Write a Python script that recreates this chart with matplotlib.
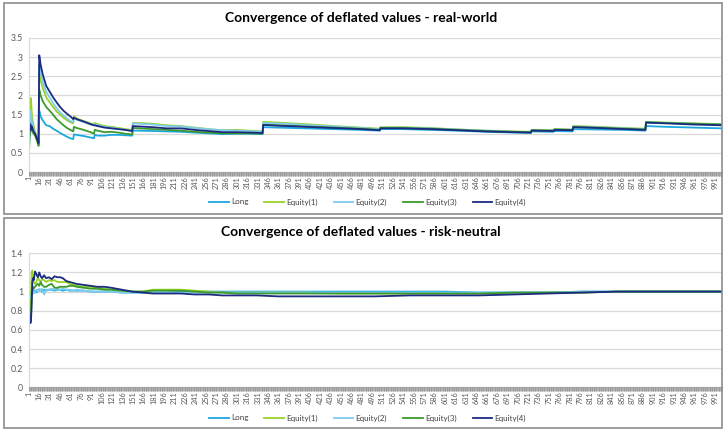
import matplotlib
matplotlib.use("Agg")
import matplotlib.pyplot as plt
from matplotlib.patches import Rectangle
from matplotlib.ticker import MultipleLocator, FixedLocator

plt.rcParams['font.family'] = ['Lato', 'DejaVu Sans']

# ---- data: real-world panel ----
steps_rw = [1, 2, 3, 4, 5, 6, 8, 10, 12, 14, 15, 16, 18, 21, 26, 31, 36, 41, 46, 51,
            56, 61, 65, 66, 70, 80, 90, 95, 96, 100, 110, 120, 130, 140, 150, 151, 160,
            180, 200, 220, 240, 260, 280, 300, 320, 338, 339, 360, 400, 440, 480, 507,
            508, 540, 580, 620, 660, 700, 725, 726, 758, 759, 785, 786, 820, 860, 890,
            891, 920, 960, 1000]
long_rw = [0.55, 1.0, 1.35, 1.5, 1.3, 1.2, 1.1, 1.0, 0.92, 0.85, 0.8, 1.6, 1.45, 1.35, 1.22,
           1.2, 1.13, 1.08, 1.02, 0.97, 0.92, 0.88, 0.86, 0.98, 0.97, 0.94, 0.9, 0.88, 0.97,
           0.95, 0.95, 0.97, 0.97, 0.96, 0.95, 1.08, 1.08, 1.07, 1.06, 1.05, 1.03, 1.01,
           0.99, 1.0, 1.0, 0.99, 1.17, 1.16, 1.14, 1.12, 1.1, 1.08, 1.12, 1.12, 1.1, 1.08,
           1.05, 1.03, 1.02, 1.06, 1.05, 1.07, 1.06, 1.12, 1.11, 1.1, 1.08, 1.2, 1.18,
           1.16, 1.14]
eq1_rw = [0.35, 1.2, 1.7, 1.93, 1.6, 1.4, 1.2, 1.05, 0.95, 0.8, 0.7, 2.6, 2.4, 2.2, 1.95,
          1.82, 1.7, 1.58, 1.5, 1.42, 1.35, 1.3, 1.27, 1.45, 1.4, 1.33, 1.27, 1.24, 1.28,
          1.25, 1.2, 1.18, 1.15, 1.12, 1.1, 1.28, 1.28, 1.26, 1.22, 1.2, 1.16, 1.12, 1.09,
          1.1, 1.08, 1.06, 1.31, 1.29, 1.25, 1.2, 1.16, 1.13, 1.17, 1.17, 1.15, 1.11, 1.08,
          1.06, 1.05, 1.1, 1.09, 1.12, 1.11, 1.2, 1.18, 1.15, 1.13, 1.31, 1.29, 1.27, 1.25]
eq2_rw = [0.45, 1.1, 1.5, 1.6, 1.35, 1.25, 1.1, 1.0, 0.93, 0.82, 0.75, 2.8, 2.6, 2.35, 2.1,
          1.95, 1.8, 1.67, 1.56, 1.48, 1.4, 1.33, 1.3, 1.42, 1.37, 1.3, 1.24, 1.22, 1.25,
          1.22, 1.18, 1.16, 1.13, 1.1, 1.08, 1.27, 1.26, 1.24, 1.2, 1.19, 1.15, 1.12, 1.09,
          1.08, 1.07, 1.05, 1.28, 1.27, 1.23, 1.19, 1.15, 1.12, 1.16, 1.16, 1.14, 1.11,
          1.08, 1.05, 1.04, 1.09, 1.08, 1.11, 1.1, 1.19, 1.17, 1.14, 1.12, 1.3, 1.28,
          1.26, 1.24]
eq3_rw = [0.33, 0.9, 1.15, 1.2, 1.1, 1.05, 1.0, 0.95, 0.85, 0.75, 0.68, 2.15, 2.0, 1.85,
          1.7, 1.6, 1.5, 1.38, 1.3, 1.22, 1.15, 1.1, 1.06, 1.18, 1.15, 1.1, 1.04, 1.0, 1.1,
          1.08, 1.04, 1.05, 1.03, 1.0, 0.98, 1.15, 1.14, 1.12, 1.1, 1.08, 1.05, 1.03, 1.01,
          1.01, 1.01, 1.0, 1.23, 1.22, 1.19, 1.16, 1.13, 1.1, 1.15, 1.15, 1.13, 1.1, 1.07,
          1.05, 1.04, 1.09, 1.08, 1.11, 1.1, 1.18, 1.16, 1.13, 1.11, 1.3, 1.28, 1.26, 1.24]
eq4_rw = [0.75, 1.15, 1.25, 1.1, 1.2, 1.15, 1.05, 1.0, 0.9, 0.82, 0.75, 3.05, 2.8, 2.55,
          2.25, 2.1, 1.95, 1.82, 1.7, 1.6, 1.52, 1.45, 1.38, 1.42, 1.38, 1.32, 1.25, 1.22,
          1.22, 1.2, 1.16, 1.14, 1.12, 1.1, 1.07, 1.2, 1.19, 1.17, 1.14, 1.14, 1.1, 1.07,
          1.04, 1.04, 1.03, 1.02, 1.23, 1.21, 1.18, 1.15, 1.12, 1.09, 1.14, 1.14, 1.12,
          1.09, 1.06, 1.04, 1.03, 1.08, 1.07, 1.1, 1.09, 1.17, 1.15, 1.12, 1.1, 1.29, 1.27,
          1.24, 1.22]

# ---- data: risk-neutral panel ----
steps_rn = [1, 2, 3, 4, 5, 6, 7, 8, 10, 12, 14, 16, 18, 20, 23, 26, 30, 34, 38, 42, 46,
            50, 55, 60, 65, 70, 80, 90, 100, 110, 120, 135, 150, 165, 180, 200, 220, 240,
            260, 280, 300, 330, 360, 400, 450, 500, 550, 600, 650, 700, 750, 800, 850,
            900, 950, 1000]
long_rn = [1.0, 0.98, 0.96, 0.98, 1.0, 1.0, 0.99, 1.0, 1.01, 0.99, 1.02, 1.01, 1.02, 1.0,
           1.02, 1.01, 1.02, 1.02, 1.01, 1.02, 1.02, 1.01, 1.02, 1.01, 1.01, 1.01, 1.01,
           1.0, 1.0, 1.0, 1.0, 0.99, 0.99, 0.99, 0.99, 0.99, 1.0, 1.0, 1.0, 1.0, 1.0, 1.0,
           1.0, 1.0, 1.0, 1.0, 1.0, 1.0, 0.99, 0.99, 0.99, 1.0, 1.0, 1.0, 1.0, 1.0]
eq1_rn = [0.72, 0.68, 0.68, 0.9, 1.2, 1.22, 1.15, 1.1, 1.08, 1.1, 1.15, 1.12, 1.1, 1.13,
          1.12, 1.1, 1.12, 1.11, 1.12, 1.1, 1.1, 1.1, 1.1, 1.08, 1.07, 1.06, 1.05, 1.05,
          1.04, 1.03, 1.02, 1.01, 1.0, 1.0, 1.02, 1.02, 1.02, 1.01, 1.0, 0.99, 0.99, 0.99,
          0.99, 0.99, 0.98, 0.98, 0.98, 0.98, 0.98, 0.98, 0.99, 0.99, 1.0, 1.0, 1.0, 1.0]
eq2_rn = [0.9, 0.95, 0.93, 0.95, 0.97, 1.0, 1.02, 0.98, 1.0, 1.02, 1.0, 1.03, 1.01, 1.03,
          0.97, 1.02, 1.02, 1.03, 1.02, 1.03, 1.02, 1.03, 1.02, 1.02, 1.01, 1.02, 1.01,
          1.0, 1.0, 1.0, 1.0, 0.99, 0.99, 0.99, 0.99, 0.99, 0.99, 0.99, 0.99, 0.99, 0.99,
          0.99, 0.99, 0.99, 0.99, 0.99, 0.99, 0.99, 0.99, 0.99, 0.99, 1.0, 1.0, 1.0, 1.0,
          1.0]
eq3_rn = [0.8, 0.67, 0.67, 0.7, 0.95, 1.0, 1.05, 1.03, 1.05, 1.07, 1.08, 1.06, 1.1, 1.07,
          1.05, 1.05, 1.07, 1.08, 1.04, 1.04, 1.05, 1.05, 1.05, 1.06, 1.06, 1.05, 1.04,
          1.03, 1.03, 1.02, 1.02, 1.01, 1.0, 1.0, 1.01, 1.01, 1.01, 1.0, 0.99, 0.99, 0.98,
          0.98, 0.98, 0.98, 0.98, 0.98, 0.98, 0.98, 0.98, 0.99, 0.99, 0.99, 1.0, 1.0, 1.0,
          1.0]
eq4_rn = [0.88, 0.67, 0.67, 0.68, 0.85, 1.1, 1.14, 1.12, 1.21, 1.18, 1.15, 1.2, 1.16, 1.14,
          1.17, 1.14, 1.15, 1.13, 1.16, 1.15, 1.15, 1.14, 1.11, 1.1, 1.09, 1.08, 1.07, 1.06,
          1.05, 1.05, 1.04, 1.02, 1.0, 0.99, 0.98, 0.98, 0.98, 0.97, 0.97, 0.96, 0.96,
          0.96, 0.95, 0.95, 0.95, 0.95, 0.96, 0.96, 0.96, 0.97, 0.98, 0.99, 1.0, 1.0, 1.0,
          1.0]

series_names = ["Long", "Equity(1)", "Equity(2)", "Equity(3)", "Equity(4)"]
colors = ["#1BA8E0", "#98D225", "#7FCCEF", "#3C9A2C", "#1B2B80"]
tick_labels = [str(i) for i in range(1, 1001, 15)]

fig = plt.figure(figsize=(7.25, 4.29), dpi=100)

# panel frames
for y0, h in [(215 / 429, 211 / 429), (1 / 429, 210 / 429)]:
    fig.patches.append(Rectangle((4 / 725, y0), 718 / 725, h, transform=fig.transFigure,
                                 fill=False, edgecolor="#8c8c8c", linewidth=1.2))


def draw_panel(rect, steps, data, ymax, ystep, title, title_y, leg_y):
    ax = fig.add_axes(rect)
    for vals, name, c in zip(data, series_names, colors):
        ax.plot(steps, vals, color=c, lw=1.3, label=name)
    ax.set_xlim(0.5, 1000.5)
    ax.set_ylim(0, ymax)
    ax.yaxis.set_major_locator(MultipleLocator(ystep))
    ax.yaxis.set_major_formatter(plt.FuncFormatter(lambda v, p: f"{v:g}"))
    ax.xaxis.set_major_locator(FixedLocator(range(1, 1001, 15)))
    ax.set_xticklabels(tick_labels, rotation=90, fontsize=5.3, color="#595959")
    ax.xaxis.set_minor_locator(FixedLocator([i + 0.5 for i in range(0, 1001)]))
    ax.tick_params(axis="x", which="major", length=0, pad=3)
    ax.tick_params(axis="x", which="minor", length=3, width=0.5, color="#8f8f8f")
    ax.tick_params(axis="y", length=0, labelsize=6.3, labelcolor="#595959", pad=4)
    ax.grid(axis="y", color="#d9d9d9", lw=0.9)
    ax.set_axisbelow(True)
    for s in ["top", "right"]:
        ax.spines[s].set_visible(False)
    ax.spines["left"].set_color("#d9d9d9")
    ax.spines["bottom"].set_color("#a6a6a6")
    fig.text(0.498, title_y, title, ha="center", va="center", fontsize=10,
             fontweight="bold", color="#000000")
    ax.legend(loc="center", bbox_to_anchor=(0.507, leg_y), bbox_transform=fig.transFigure,
              ncol=5, frameon=False, fontsize=5.8, handlelength=2.4, handletextpad=0.3,
              columnspacing=2.0, labelcolor="#404040")
    return ax


draw_panel([28.5 / 725, 1 - 172 / 429, 693.5 / 725, 134 / 429], steps_rw,
           [long_rw, eq1_rw, eq2_rw, eq3_rw, eq4_rw], 3.5, 0.5,
           "Convergence of deflated values - real-world", 1 - 18 / 429, 1 - 202 / 429)
draw_panel([28.5 / 725, 1 - 387.3 / 429, 693.5 / 725, 134 / 429], steps_rn,
           [long_rn, eq1_rn, eq2_rn, eq3_rn, eq4_rn], 1.4, 0.2,
           "Convergence of deflated values - risk-neutral", 1 - 232 / 429, 1 - 418 / 429)

fig.savefig("out.png", dpi=100)
